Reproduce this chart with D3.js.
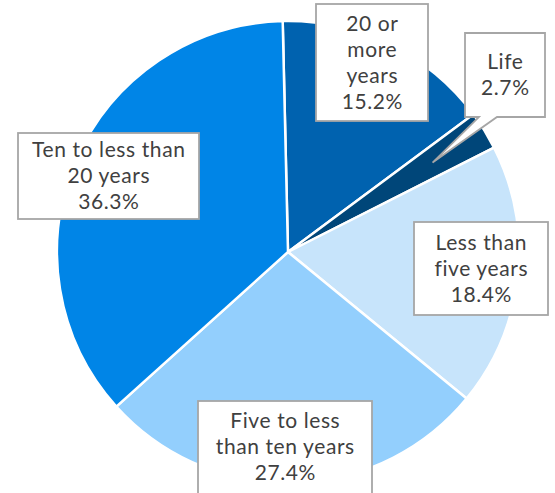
<!DOCTYPE html>
<html><head><meta charset="utf-8">
<script src="https://cdn.jsdelivr.net/npm/d3@7"></script>
<style>html,body{margin:0;padding:0;background:#fff;}svg{display:block;}</style>
</head><body>
<svg id="c" width="555" height="493"></svg>
<script>
const categories = ["20 or more years", "Life", "Less than five years", "Five to less than ten years", "Ten to less than 20 years"];
const values = [15.2, 2.7, 18.4, 27.4, 36.3];
const labelLines = [["20 or", "more", "years"], ["Life"], ["Less than", "five years"], ["Five to less", "than ten years"], ["Ten to less than", "20 years"]];
const colors = ["#0062AF", "#004679", "#C7E4FB", "#93CFFD", "#0085E7"];

// label box layout (x0, y0, x1, y1) in px
const boxes = [[316, 4, 428, 121], [465, 33, 545, 117], [414, 222, 548, 315], [198, 401, 372, 500], [18, 133, 199, 219]];

const svg = d3.select("#c");
const cx = 288, cy = 252, R = 231;
const start = -0.023;
const pie = d3.pie().sort(null).value(d => d).startAngle(start).endAngle(start + 2 * Math.PI);
const arcs = pie(values);
const arc = d3.arc().innerRadius(0).outerRadius(R);
const g = svg.append("g").attr("transform", `translate(${cx},${cy})`);
g.selectAll("path").data(arcs).join("path")
  .attr("d", arc)
  .attr("fill", (d, i) => colors[i])
  .attr("stroke", "#fff").attr("stroke-width", 2.5).attr("stroke-linejoin", "round");

const fmt = d3.format(".1f");
const lg = svg.append("g");
arcs.forEach((a, i) => {
  const [x0, y0, x1, y1] = boxes[i];
  if (i === 1) {
    const tip = d3.arc().innerRadius(170).outerRadius(170).centroid(a);
    const tx = cx + tip[0], ty = cy + tip[1];
    const p = d3.path();
    p.moveTo(x0, y0); p.lineTo(x1, y0); p.lineTo(x1, y1);
    p.lineTo(497, y1); p.lineTo(tx, ty); p.lineTo(479, y1);
    p.lineTo(x0, y1); p.closePath();
    lg.append("path").attr("d", p.toString()).attr("fill", "#fff")
      .attr("stroke", "#A6A6A6").attr("stroke-width", 1.8).attr("stroke-linejoin", "miter");
  } else {
    lg.append("rect").attr("x", x0).attr("y", y0).attr("width", x1 - x0).attr("height", y1 - y0)
      .attr("fill", "#fff").attr("stroke", "#A6A6A6").attr("stroke-width", 1.8);
  }
  const lines = labelLines[i].concat([fmt(values[i]) + "%"]);
  const lh = 26;
  const midx = (x0 + x1) / 2;
  const bottomRef = i === 3 ? 492 : y1;
  const firstBase = (y0 + bottomRef) / 2 - (lines.length * lh) / 2 + lh * 0.78;
  const t = lg.append("text").attr("text-anchor", "middle")
    .attr("font-family", "Lato, 'Open Sans', sans-serif").attr("font-size", 21)
    .attr("letter-spacing", 0.6).attr("fill", "#404040");
  lines.forEach((s, k) => {
    t.append("tspan").attr("x", midx + 0.3).attr("y", firstBase + k * lh).text(s);
  });
});
</script>
</body></html>
